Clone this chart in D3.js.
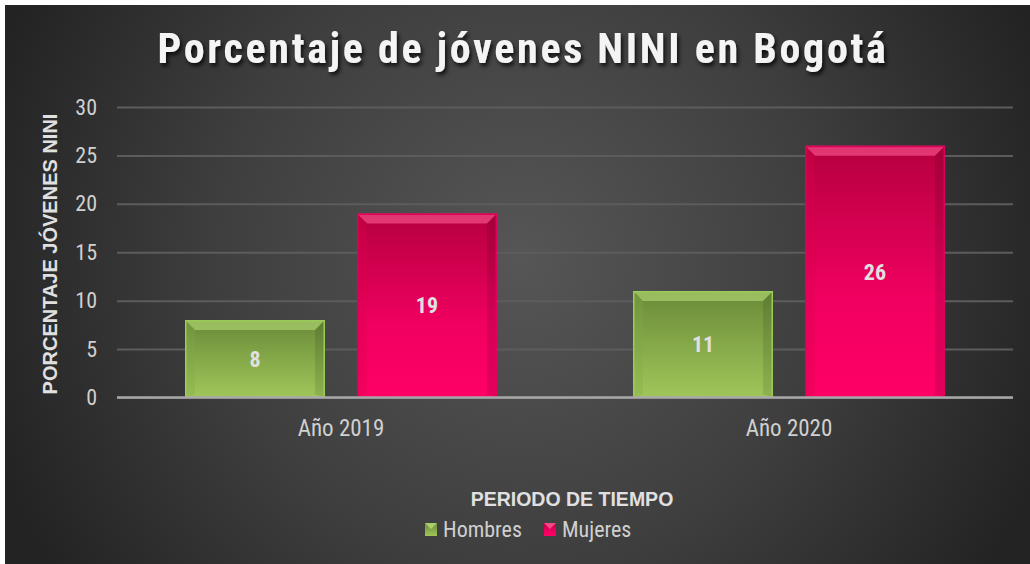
<!DOCTYPE html>
<html><head><meta charset="utf-8">
<script src="https://cdn.jsdelivr.net/npm/d3@7"></script>
<style>
html,body{margin:0;padding:0;background:#fff;}
svg{display:block;}
</style></head>
<body>
<script>
const categories = ["Año 2019", "Año 2020"];
const seriesNames = ["Hombres", "Mujeres"];
const hombres = [8, 11];
const mujeres = [19, 26];
const yTicks = [0, 5, 10, 15, 20, 25, 30];
const title = "Porcentaje de jóvenes NINI en Bogotá";
const yTitle = "PORCENTAJE JÓVENES NINI";
const xTitle = "PERIODO DE TIEMPO";

(function(){
const W = 1030, H = 564;
const svg = d3.select("body").append("svg").attr("width", W).attr("height", H);
const defs = svg.append("defs");
const FONT = "'Liberation Sans Narrow','Roboto Condensed','Liberation Sans',sans-serif";
const WIDE = "'Liberation Sans',Arial,sans-serif";

const bg = defs.append("radialGradient").attr("id","bg")
  .attr("gradientUnits","userSpaceOnUse").attr("cx",520).attr("cy",260).attr("r",560);
bg.append("stop").attr("offset","0").attr("stop-color","#565656");
bg.append("stop").attr("offset","0.55").attr("stop-color","#3e3e3e");
bg.append("stop").attr("offset","1").attr("stop-color","#232323");

const gradG = defs.append("linearGradient").attr("id","gG").attr("x1",0).attr("y1",0).attr("x2",0).attr("y2",1);
gradG.append("stop").attr("offset","0").attr("stop-color","#6a8a38");
gradG.append("stop").attr("offset","1").attr("stop-color","#a0c65a");
const gradM = defs.append("linearGradient").attr("id","gM").attr("x1",0).attr("y1",0).attr("x2",0).attr("y2",1);
gradM.append("stop").attr("offset","0").attr("stop-color","#b5003f");
gradM.append("stop").attr("offset","0.6").attr("stop-color","#f00060");
gradM.append("stop").attr("offset","1").attr("stop-color","#ff0066");

const sh = defs.append("filter").attr("id","ts").attr("x","-10%").attr("y","-30%").attr("width","120%").attr("height","160%");
sh.append("feDropShadow").attr("dx",2).attr("dy",3).attr("stdDeviation",2).attr("flood-color","#000").attr("flood-opacity",0.8);

svg.append("rect").attr("x",5).attr("y",5).attr("width",W-5).attr("height",H-5).attr("fill","url(#bg)");

const pl = 117, pr = 1013, pt = 107, pb = 397.5;
const y = d3.scaleLinear().domain([0,30]).range([pb, pt]);
const x0 = d3.scaleBand().domain(categories).range([pl, pr]).padding(0);
const x1 = d3.scaleBand().domain(seriesNames).range([68, x0.bandwidth()-68]).paddingInner(0.186).paddingOuter(0);

const fills = {Hombres:"url(#gG)", Mujeres:"url(#gM)"};
const bevelTop = {Hombres:"#b6dc78", Mujeres:"#ff5a96"};
const bevelSide = {Hombres:"#82a84a", Mujeres:"#d8004c"};
const edge = {Hombres:"#9ccc58", Mujeres:"#e0005a"};

const yAxis = d3.axisLeft(y).tickValues(yTicks).tickSize(-(pr-pl)).tickFormat(d3.format("d"));
const ga = svg.append("g").attr("transform",`translate(${pl},0)`).call(yAxis);
ga.select(".domain").remove();
ga.selectAll(".tick line").attr("stroke","#5c5c5c").attr("stroke-width",2);
ga.selectAll(".tick text").attr("x",-20).attr("fill","#d0d0d0")
  .attr("font-family",FONT).attr("font-size",22);

const data = categories.map((c,i)=>({cat:c, vals:[{s:"Hombres",v:hombres[i]},{s:"Mujeres",v:mujeres[i]}]}));
const groups = svg.append("g").selectAll("g").data(data).join("g")
  .attr("transform", d=>`translate(${x0(d.cat)},0)`);
const bars = groups.selectAll("g").data(d=>d.vals).join("g");
bars.each(function(d){
  const g = d3.select(this);
  const bx = x1(d.s), bw = x1.bandwidth(), by = y(d.v), bh = y(0)-y(d.v);
  const b = 10;
  g.append("rect").attr("x",bx).attr("y",by).attr("width",bw).attr("height",bh).attr("fill",fills[d.s]);
  g.append("path").attr("d",`M${bx},${by}L${bx+bw},${by}L${bx+bw-b},${by+b}L${bx+b},${by+b}Z`)
    .attr("fill",bevelTop[d.s]).attr("opacity",0.6);
  g.append("path").attr("d",`M${bx},${by}L${bx+b},${by+b}L${bx+b},${by+bh-3}L${bx},${by+bh}Z`)
    .attr("fill",bevelSide[d.s]).attr("opacity",0.3);
  g.append("path").attr("d",`M${bx+bw},${by}L${bx+bw-b},${by+b}L${bx+bw-b},${by+bh-3}L${bx+bw},${by+bh}Z`)
    .attr("fill","#000").attr("opacity",0.1);
  g.append("rect").attr("x",bx+0.75).attr("y",by+0.75).attr("width",bw-1.5).attr("height",bh-1.5)
    .attr("fill","none").attr("stroke",edge[d.s]).attr("stroke-width",1.5);
  g.append("text").attr("x",bx+bw/2).attr("y",(by+y(0))/2).attr("dy","0.36em")
    .attr("text-anchor","middle").attr("fill","#e0e0e0").attr("font-weight","bold")
    .attr("font-family",FONT).attr("font-size",22).text(d.v);
});

svg.append("line").attr("x1",pl).attr("x2",pr).attr("y1",y(0)).attr("y2",y(0))
  .attr("stroke","#a8a8a8").attr("stroke-width",2.5);

const xAxis = d3.axisBottom(x0).tickSize(0).tickPadding(0);
const gx = svg.append("g").attr("transform",`translate(0,${y(0)})`).call(xAxis);
gx.select(".domain").remove();
gx.selectAll("text").attr("y",38).attr("dy",0).attr("fill","#d0d0d0")
  .attr("font-family",FONT).attr("font-size",23);

svg.append("text").attr("x",523).attr("y",63).attr("text-anchor","middle")
  .attr("fill","#f4f4f4").attr("font-weight","bold").attr("font-size",42)
  .attr("letter-spacing",2.7).attr("font-family",FONT)
  .attr("filter","url(#ts)").text(title);

svg.append("text").attr("transform","translate(57,254) rotate(-90)").attr("text-anchor","middle")
  .attr("fill","#e0e0e0").attr("font-weight","bold").attr("font-size",20)
  .attr("font-family",WIDE).text(yTitle);

svg.append("text").attr("x",572).attr("y",506).attr("text-anchor","middle")
  .attr("fill","#e0e0e0").attr("font-weight","bold").attr("font-size",19.5)
  .attr("font-family",WIDE).text(xTitle);

const legX = [425, 544];
const leg = svg.append("g").selectAll("g").data(seriesNames).join("g")
  .attr("transform",(d,i)=>`translate(${legX[i]},523)`);
leg.append("rect").attr("width",12).attr("height",13).attr("fill",d=>fills[d]);
leg.append("path").attr("d","M0,0L12,0L6,6Z").attr("fill",d=>bevelTop[d]).attr("opacity",0.8);
leg.append("text").attr("x",18).attr("y",14).attr("fill","#d0d0d0")
  .attr("font-family",FONT).attr("font-size",22).text(d=>d);
})();
</script>
</body></html>
